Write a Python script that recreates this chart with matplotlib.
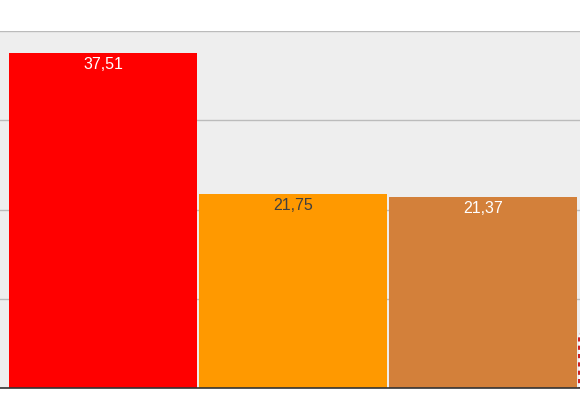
import matplotlib
matplotlib.use('Agg')
import matplotlib.pyplot as plt

plt.rcParams['font.family'] = ['Liberation Sans', 'DejaVu Sans']

categories = ['A', 'B', 'C', 'D']
values = [37.51, 21.75, 21.37, 6.0]
labels = ['37,51', '21,75', '21,37', '']
colors = ['#ff0000', '#ff9900', '#d3803a', '#ffffff']
label_colors = ['white', '#404040', 'white', 'white']

fig = plt.figure(figsize=(5.8, 3.93), dpi=100)
ax = fig.add_axes([0.0, 5 / 393, 1.0, 357 / 393])
ax.set_facecolor('#eeeeee')

x = list(range(len(values)))
bars = ax.bar(x, values, width=0.99, color=colors, zorder=3)
bars[3].set_edgecolor('#cc2222')
bars[3].set_linestyle((0, (2, 2)))
bars[3].set_linewidth(1.5)

for bar, lab, lc in zip(bars, labels, label_colors):
    if lab:
        ax.annotate(lab, xy=(bar.get_x() + bar.get_width() / 2, bar.get_height()),
                    xytext=(0, -3), textcoords='offset points',
                    ha='center', va='top', fontsize=11.5, color=lc, zorder=4)

ax.set_xlim(-0.542, 2.511)
ax.set_ylim(0, 40)
ax.set_yticks([0, 10, 20, 30, 40])
ax.yaxis.grid(True, color='#bbbbbb', linewidth=1, zorder=0)
ax.set_axisbelow(True)
ax.tick_params(left=False, bottom=False, labelleft=False, labelbottom=False)
for s in ['left', 'right', 'top']:
    ax.spines[s].set_visible(False)
ax.spines['bottom'].set_color('#333333')
ax.spines['bottom'].set_linewidth(1.2)
ax.spines['bottom'].set_zorder(5)

fig.savefig('out.png', dpi=100)
